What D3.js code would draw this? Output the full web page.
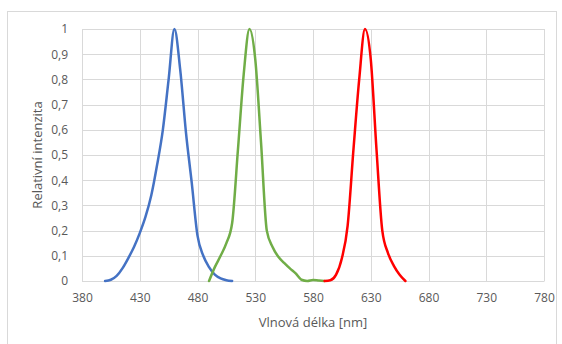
<!DOCTYPE html>
<html>
<head>
<meta charset="utf-8">
<script src="https://cdn.jsdelivr.net/npm/d3@7"></script>
<style>
  body { margin: 0; background: #fff; }
  svg { display: block; font-family: "Open Sans", sans-serif; }
</style>
</head>
<body>
<div id="chart"></div>
<script>
// relative intensity spectra (wavelength nm, value)
const blueSeries = [
  [400, 0], [405, 0.005], [410, 0.02], [415, 0.05], [420, 0.09], [425, 0.135],
  [430, 0.19], [435, 0.255], [440, 0.34], [445, 0.46], [450, 0.6], [455, 0.8],
  [460, 1.0], [465, 0.84], [470, 0.59], [475, 0.39], [480, 0.18], [485, 0.1],
  [490, 0.055], [495, 0.025], [500, 0.01], [505, 0.003], [510, 0]
];
const greenSeries = [
  [490, 0], [495, 0.055], [500, 0.1], [505, 0.15], [510, 0.23], [515, 0.52],
  [520, 0.82], [525, 1.0], [530, 0.88], [535, 0.55], [540, 0.2], [545, 0.135],
  [550, 0.096], [555, 0.072], [560, 0.05], [565, 0.03], [570, 0.005], [575, 0],
  [580, 0.004], [585, 0.002], [590, 0]
];
const redSeries = [
  [590, 0], [595, 0.003], [600, 0.025], [605, 0.09], [610, 0.22], [615, 0.52],
  [620, 0.8], [625, 1.0], [630, 0.88], [635, 0.52], [640, 0.2], [645, 0.11],
  [650, 0.06], [655, 0.025], [660, 0]
];
const xTicks = [380, 430, 480, 530, 580, 630, 680, 730, 780];
const yTicks = [0, 0.1, 0.2, 0.3, 0.4, 0.5, 0.6, 0.7, 0.8, 0.9, 1];

const series = [
  { data: blueSeries, color: '#4472c4' },
  { data: greenSeries, color: '#70ad47' },
  { data: redSeries, color: '#ff0000' }
];

const W = 562, H = 344;
const margin = { top: 29, right: 18, bottom: 63, left: 82 };
const width = W - margin.left - margin.right;
const height = H - margin.top - margin.bottom;

const root = d3.select('#chart').append('svg')
  .attr('width', W)
  .attr('height', H);

// chart frame
root.append('rect')
  .attr('x', 7.5).attr('y', 11.5)
  .attr('width', 549).attr('height', 345)
  .attr('fill', 'none')
  .attr('stroke', '#d9d9d9');

const svg = root.append('g')
  .attr('transform', `translate(${margin.left},${margin.top})`);

const x = d3.scaleLinear().domain([380, 780]).range([0, width]);
const y = d3.scaleLinear().domain([0, 1]).range([height, 0]);

const fmt = d => String(d3.format('~g')(d)).replace('.', ',');

// gridlines
svg.append('g')
  .selectAll('line')
  .data(yTicks)
  .join('line')
  .attr('x1', 0).attr('x2', width)
  .attr('y1', d => Math.round(y(d)) + 0.5)
  .attr('y2', d => Math.round(y(d)) + 0.5)
  .attr('stroke', '#d9d9d9');

svg.append('g')
  .selectAll('line')
  .data(xTicks)
  .join('line')
  .attr('x1', d => Math.round(x(d)) + 0.5)
  .attr('x2', d => Math.round(x(d)) + 0.5)
  .attr('y1', 0).attr('y2', height)
  .attr('stroke', '#d9d9d9');

// axes
const xAxis = svg.append('g')
  .attr('transform', `translate(0,${height})`)
  .call(d3.axisBottom(x).tickValues(xTicks).tickSize(0).tickPadding(12).tickFormat(d3.format('d')));
xAxis.select('.domain').attr('stroke', '#d9d9d9');
xAxis.selectAll('text').attr('fill', '#595959').attr('font-size', 12)
  .attr('font-family', '"Open Sans", sans-serif');

const yAxis = svg.append('g')
  .call(d3.axisLeft(y).tickValues(yTicks).tickSize(0).tickPadding(14).tickFormat(fmt));
yAxis.select('.domain').remove();
yAxis.selectAll('text').attr('fill', '#595959').attr('font-size', 12)
  .attr('font-family', '"Open Sans", sans-serif');

// axis titles
root.append('text')
  .attr('x', margin.left + width / 2)
  .attr('y', 327)
  .attr('text-anchor', 'middle')
  .attr('fill', '#595959')
  .attr('font-size', 13)
  .text('Vlnová délka [nm]');

root.append('text')
  .attr('transform', `translate(42,${margin.top + height / 2}) rotate(-90)`)
  .attr('text-anchor', 'middle')
  .attr('fill', '#595959')
  .attr('font-size', 13)
  .text('Relativní intenzita');

// spectra
const line = d3.line()
  .x(d => x(d[0]))
  .y(d => y(d[1]))
  .curve(d3.curveMonotoneX);

svg.selectAll('.spectrum')
  .data(series)
  .join('path')
  .attr('class', 'spectrum')
  .attr('d', d => line(d.data))
  .attr('fill', 'none')
  .attr('stroke', d => d.color)
  .attr('stroke-width', 2.5)
  .attr('stroke-linejoin', 'round')
  .attr('stroke-linecap', 'round');
</script>
</body>
</html>
